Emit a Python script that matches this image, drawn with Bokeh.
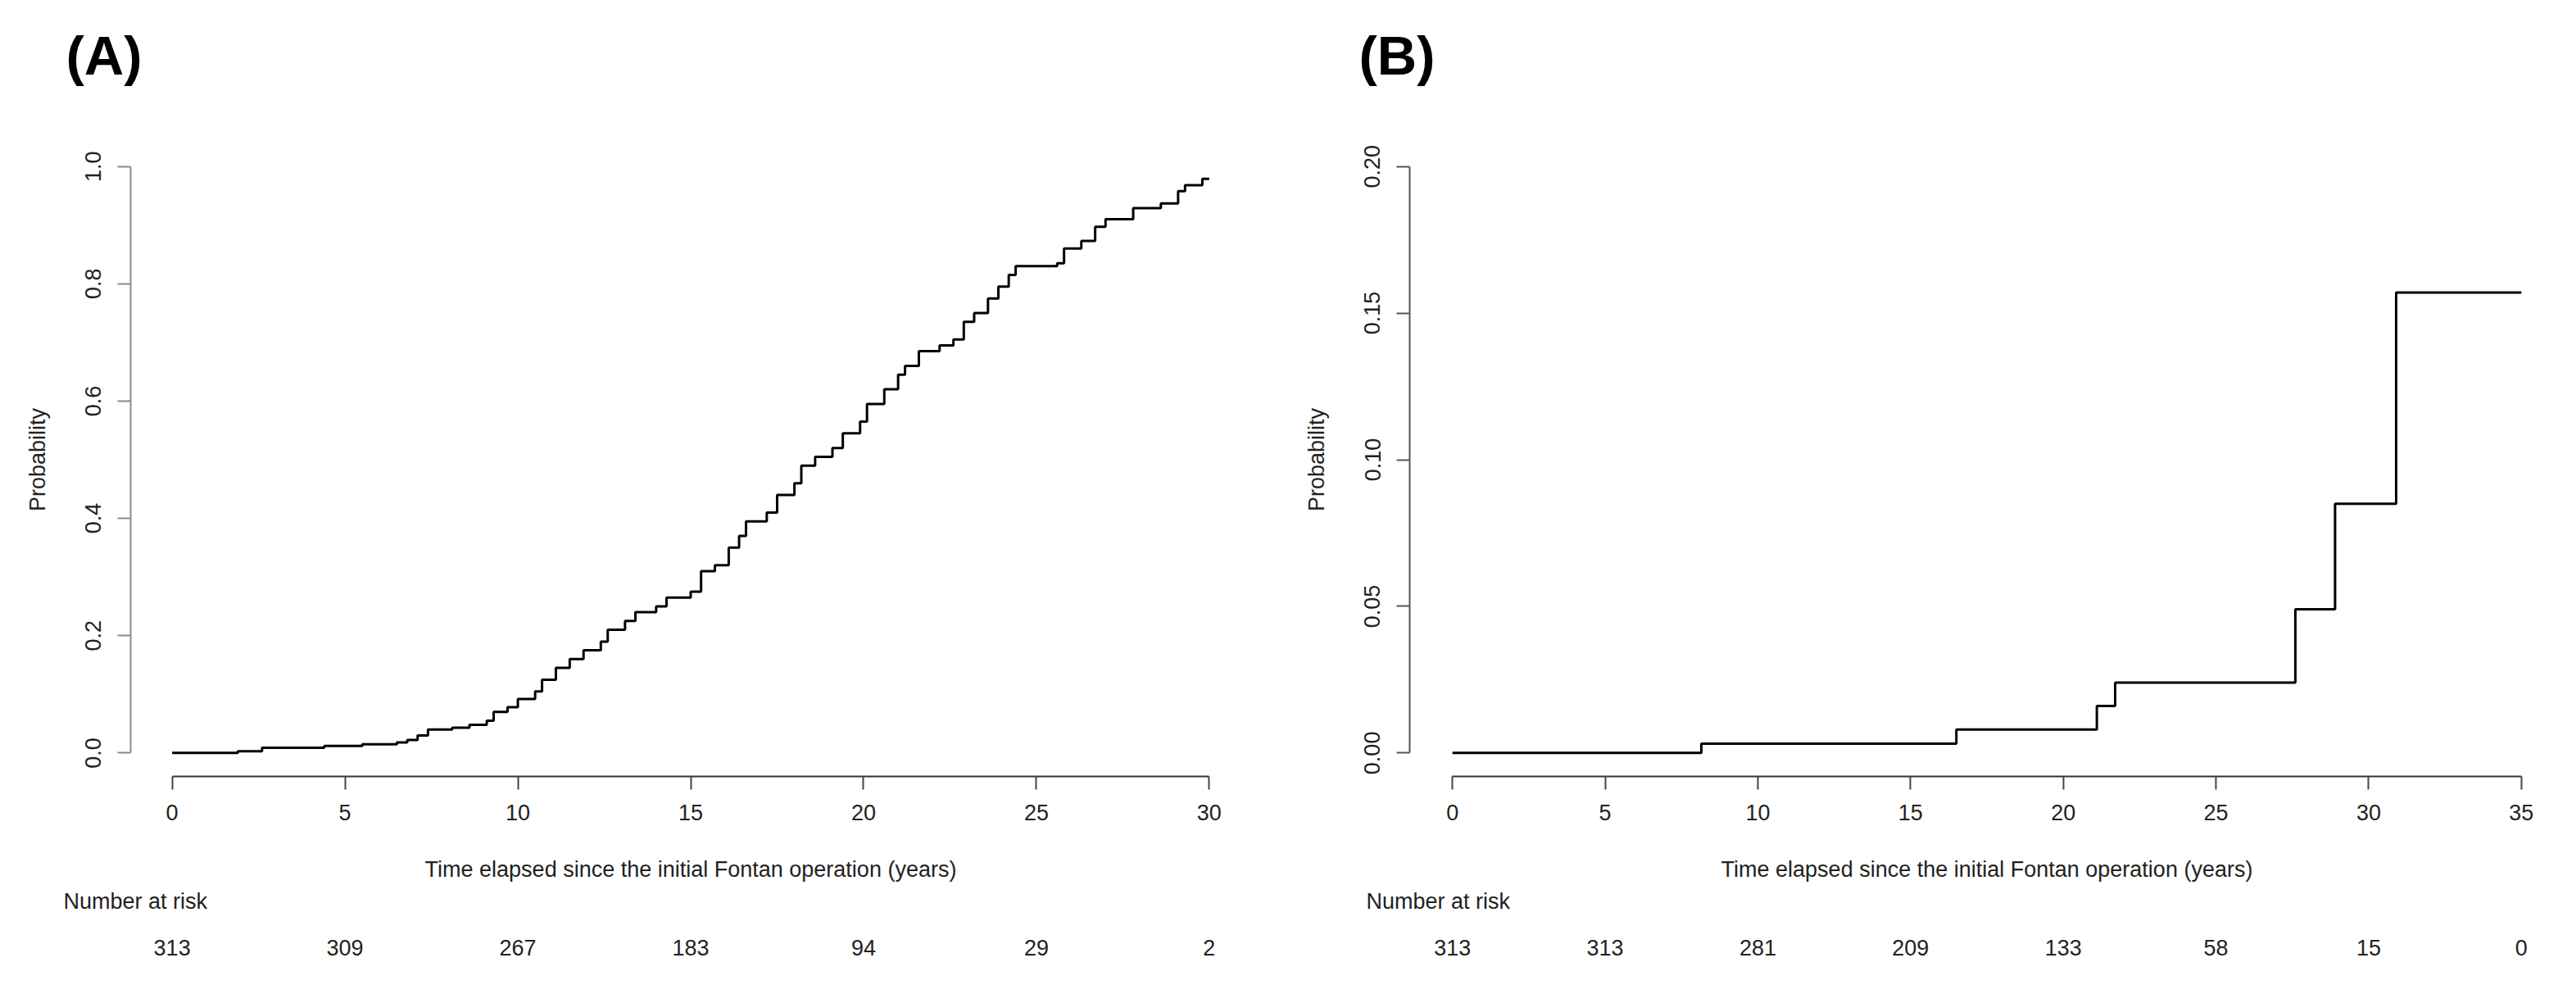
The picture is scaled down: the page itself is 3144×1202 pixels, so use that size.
from bokeh.plotting import figure
from bokeh.layouts import row
from bokeh.models import LinearAxis, FixedTicker, Title, Range1d
from bokeh.embed import file_html
from bokeh.resources import INLINE

# ---------------- data ----------------
# Panel A: cumulative probability (step function)
time_a = [0, 1.9, 2.6, 4.4, 5.5, 6.5, 6.8, 7.1, 7.4, 8.1, 8.6, 9.1, 9.3, 9.7, 10.0,
          10.5, 10.7, 11.1, 11.5, 11.9, 12.4, 12.6, 13.1, 13.4, 14.0, 14.3, 15.0,
          15.3, 15.7, 16.1, 16.4, 16.6, 17.2, 17.5, 18.0, 18.2, 18.6, 19.1, 19.4,
          19.9, 20.1, 20.6, 21.0, 21.2, 21.6, 22.2, 22.6, 22.9, 23.2, 23.6, 23.9,
          24.2, 24.4, 25.6, 25.8, 26.3, 26.7, 27.0, 27.8, 28.6, 29.1, 29.3, 29.8, 30.0]
prob_a = [0, 0.003, 0.009, 0.012, 0.015, 0.018, 0.022, 0.03, 0.04, 0.043, 0.048,
          0.055, 0.07, 0.078, 0.092, 0.105, 0.125, 0.145, 0.16, 0.175, 0.19, 0.21,
          0.225, 0.24, 0.25, 0.265, 0.275, 0.31, 0.32, 0.35, 0.37, 0.395, 0.41, 0.44,
          0.46, 0.49, 0.505, 0.52, 0.545, 0.565, 0.595, 0.62, 0.645, 0.66, 0.685,
          0.695, 0.705, 0.735, 0.75, 0.775, 0.795, 0.815, 0.83, 0.835, 0.86, 0.873,
          0.897, 0.91, 0.929, 0.937, 0.958, 0.968, 0.979, 0.979]
xticks_a = [0, 5, 10, 15, 20, 25, 30]
yticks_a = [0.0, 0.2, 0.4, 0.6, 0.8, 1.0]
ylabels_a = ["0.0", "0.2", "0.4", "0.6", "0.8", "1.0"]
risk_a = [313, 309, 267, 183, 94, 29, 2]

# Panel B
time_b = [0, 8.15, 16.5, 21.1, 21.7, 27.6, 28.9, 30.9, 35]
prob_b = [0, 0.0032, 0.008, 0.016, 0.024, 0.049, 0.085, 0.157, 0.157]
xticks_b = [0, 5, 10, 15, 20, 25, 30, 35]
yticks_b = [0.0, 0.05, 0.10, 0.15, 0.20]
ylabels_b = ["0.00", "0.05", "0.10", "0.15", "0.20"]
risk_b = [313, 313, 281, 209, 133, 58, 15, 0]

XLABEL = "Time elapsed since the initial Fontan operation (years)"
FONT = "Liberation Sans"
TXT = "#222222"


def panel(label, t, pr, xticks, yticks, ylabels, risk, yaxis_col,
          border_left, border_right, label_offset, risk_offset):
    xmax = xticks[-1]
    ymax = yticks[-1]
    xr = Range1d(-0.04 * xmax, xmax * 1.04)
    yr = Range1d(-0.04 * ymax, ymax * 1.04)
    p = figure(width=1572, height=1202, x_range=xr, y_range=yr,
               output_backend="svg", toolbar_location=None,
               x_axis_location=None, y_axis_location=None,
               min_border_left=border_left, min_border_right=border_right,
               min_border_top=174, min_border_bottom=255)
    p.grid.visible = False
    p.outline_line_color = None
    p.background_fill_color = "white"
    p.border_fill_color = "white"

    # blank spacer between the frame and the panel letter
    p.add_layout(Title(text=" ", text_font=FONT, text_font_size="10px",
                       text_color="white", standoff=57), "above")
    # panel letter
    p.add_layout(Title(text=label, align="left", offset=label_offset,
                       text_font=FONT, text_font_size="67px", text_font_style="bold",
                       text_color="black", standoff=0), "above")

    ya = LinearAxis(ticker=FixedTicker(ticks=yticks), bounds=(0, ymax),
                    major_label_overrides={v: s for v, s in zip(yticks, ylabels)},
                    axis_label="Probability")
    ya.axis_line_color = yaxis_col
    ya.axis_line_width = 2
    ya.major_tick_line_color = yaxis_col
    ya.major_tick_line_width = 2
    ya.major_tick_out = 16
    ya.major_tick_in = 0
    ya.minor_tick_line_color = None
    ya.major_label_orientation = "vertical"
    ya.major_label_standoff = 20
    ya.major_label_text_font = FONT
    ya.major_label_text_font_size = "27px"
    ya.major_label_text_color = TXT
    ya.axis_label_text_font = FONT
    ya.axis_label_text_font_size = "27px"
    ya.axis_label_text_font_style = "normal"
    ya.axis_label_text_color = TXT
    ya.axis_label_standoff = 41
    p.add_layout(ya, "left")

    xa = LinearAxis(ticker=FixedTicker(ticks=xticks), bounds=(0, xmax),
                    axis_label=XLABEL)
    xa.axis_line_color = "#333333"
    xa.axis_line_width = 2
    xa.major_tick_line_color = "#444444"
    xa.major_tick_line_width = 2
    xa.major_tick_out = 16
    xa.major_tick_in = 0
    xa.minor_tick_line_color = None
    xa.major_label_standoff = 18
    xa.major_label_text_font = FONT
    xa.major_label_text_font_size = "27px"
    xa.major_label_text_color = TXT
    xa.axis_label_text_font = FONT
    xa.axis_label_text_font_size = "27px"
    xa.axis_label_text_font_style = "normal"
    xa.axis_label_text_color = TXT
    xa.axis_label_standoff = 42
    p.add_layout(xa, "below")

    nt = Title(text="Number at risk", align="left", offset=risk_offset,
               text_font=FONT, text_font_size="27px", text_font_style="normal",
               text_color=TXT, standoff=8)
    p.add_layout(nt, "below")

    ra = LinearAxis(ticker=FixedTicker(ticks=xticks),
                    major_label_overrides={v: str(n) for v, n in zip(xticks, risk)})
    ra.axis_line_color = None
    ra.major_tick_line_color = None
    ra.minor_tick_line_color = None
    ra.major_tick_out = 0
    ra.major_tick_in = 0
    ra.major_label_standoff = 28
    ra.major_label_text_font = FONT
    ra.major_label_text_font_size = "27px"
    ra.major_label_text_color = TXT
    p.add_layout(ra, "below")

    p.step(t, pr, mode="after", line_color="black", line_width=3)
    return p


pa = panel("(A)", time_a, prob_a, xticks_a, yticks_a, ylabels_a, risk_a,
           "#8a8a8a", 159, 46, -79, -82)
pb = panel("(B)", time_b, prob_b, xticks_b, yticks_b, ylabels_b, risk_b,
           "#555555", 148, 15, -62, -53)

layout = row(pa, pb)
open("out.html", "w").write(file_html(layout, INLINE))
